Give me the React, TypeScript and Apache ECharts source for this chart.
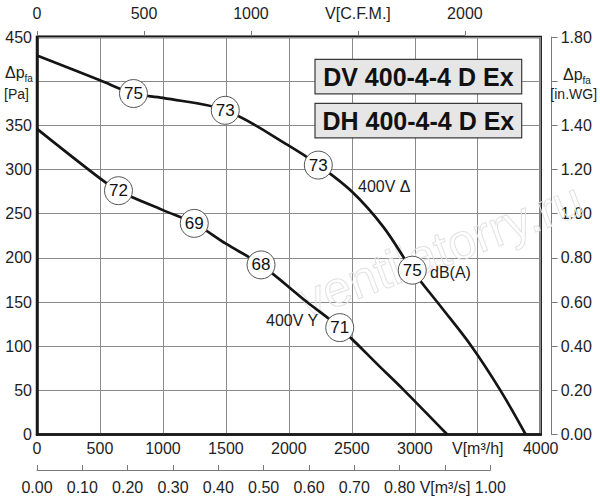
import React, { useEffect, useRef } from "react";
import * as echarts from "echarts";

// ---------- data ----------
// 400V Δ curve: volume flow [m³/h] and static pressure [Pa]
const flowDelta = [0, 500, 766, 1000, 1495, 2000, 2234, 2500, 2750, 2980, 3200, 3450, 3680, 3881];
const pressDelta = [429, 401, 386, 381, 367, 327, 305, 275, 235, 186, 146, 100, 50, 0];
// 400V Y curve
const flowStar = [0, 500, 647, 1000, 1249, 1500, 1779, 2144, 2404, 2728, 2915, 3258];
const pressStar = [346, 290, 276, 254, 239, 216, 192, 150, 121, 76, 50, 0];
// sound level markers (dB(A)) on the curves
const dbDeltaFlow = [766, 1495, 2234, 2980];
const dbDeltaPress = [386, 367, 305, 186];
const dbDeltaValue = [75, 73, 73, 75];
const dbStarFlow = [647, 1249, 1779, 2404];
const dbStarPress = [276, 239, 192, 121];
const dbStarValue = [72, 69, 68, 71];

// axis ranges / tick steps
const FLOW_MAX = 4000;
const FLOW_STEP = 500;
const PRESS_MAX = 450;
const PRESS_STEP = 50;
const CFM_MAX = 2000;
const CFM_STEP = 500;
const M3S_MAX = 1.0;
const M3S_STEP = 0.1;
const INWG_MAX = 1.8;
const INWG_STEP = 0.2;
const CFM_TO_M3H = 1.699011;
const M3S_TO_M3H = 3600;

// names that replace a tick label
const NAME_FLOW = "V[m³/h]";
const NAME_FLOW_AT = 3500;
const NAME_CFM = "V[C.F.M.]";
const NAME_CFM_AT = 1500;
const NAME_M3S = "V[m³/s]";
const NAME_M3S_AT = 0.9;
const MODELS = ["DV 400-4-4 D Ex", "DH 400-4-4 D Ex"];

const FONT = "'Liberation Sans', Arial, Helvetica, sans-serif";
const TXT = "#1e1e1e";
const GRIDC = "#8a8a8a";
const AXC = "#7a7a7a";

// layout
const PL = 37;
const PT = 37;
const PW = 503.7;
const PH = 397.5;

const near = (a: number, b: number) => Math.abs(a - b) < 1e-6;

export default function App() {
  const ref = useRef<HTMLDivElement>(null);

  useEffect(() => {
    if (!ref.current) return;
    const chart = echarts.init(ref.current, undefined, { renderer: "svg" });

    const lineDelta = flowDelta.map((x, i) => [x, pressDelta[i]]);
    const lineStar = flowStar.map((x, i) => [x, pressStar[i]]);
    const marks = [
      ...dbDeltaFlow.map((x, i) => [x, dbDeltaPress[i], dbDeltaValue[i]]),
      ...dbStarFlow.map((x, i) => [x, dbStarPress[i], dbStarValue[i]]),
    ];

    const label = (extra: any) => ({
      color: TXT,
      fontSize: 16,
      fontFamily: FONT,
      ...extra,
    });

    const txt = (text: string, x: number, y: number, size: number, extra: any = {}) => ({
      type: "text",
      x,
      y,
      z: 20,
      style: {
        text,
        fill: TXT,
        fontSize: size,
        fontFamily: FONT,
        align: "left",
        verticalAlign: "middle",
        ...extra,
      },
    });

    const boxX = 315;
    const boxW = 206.7;
    const boxes: any[] = [];
    MODELS.forEach((m, i) => {
      const y = i === 0 ? 59.3 : 103.3;
      boxes.push({
        type: "rect",
        z: 15,
        shape: { x: boxX, y, width: boxW, height: 34.5 },
        style: { fill: "#e6e6e6", stroke: "#3a3a3a", lineWidth: 1.2 },
      });
      boxes.push(
        txt(m, boxX + boxW / 2, y + 17.5, 25, {
          align: "center",
          fontWeight: "bold",
          fill: "#111",
        })
      );
    });

    const curveStyle = { color: "#141414", width: 2.7 };

    chart.setOption({
      animation: false,
      backgroundColor: "#fff",
      textStyle: { fontFamily: FONT },
      grid: [
        {
          left: PL,
          top: PT,
          width: PW,
          height: PH,
          show: true,
          borderColor: "#1a1a1a",
          borderWidth: 2.5,
          backgroundColor: "transparent",
          containLabel: false,
          outerBoundsMode: "none",
        },
        {
          left: PL,
          top: 25,
          width: (PW * CFM_MAX * CFM_TO_M3H) / FLOW_MAX,
          height: 10,
          containLabel: false,
          outerBoundsMode: "none",
        },
        {
          left: PL,
          top: 460,
          width: (PW * M3S_MAX * M3S_TO_M3H) / FLOW_MAX,
          height: 10,
          containLabel: false,
          outerBoundsMode: "none",
        },
      ],
      xAxis: [
        {
          gridIndex: 0,
          type: "value",
          position: "bottom",
          min: 0,
          max: FLOW_MAX,
          interval: FLOW_STEP,
          axisLine: { show: true, lineStyle: { color: "#1a1a1a", width: 2.5 } },
          axisTick: { show: false },
          splitLine: { show: true, lineStyle: { color: GRIDC, width: 1 } },
          axisLabel: label({
            margin: 6,
            formatter: (v: number) => (near(v, NAME_FLOW_AT) ? NAME_FLOW : String(v)),
          }),
        },
        {
          gridIndex: 1,
          type: "value",
          position: "top",
          min: 0,
          max: CFM_MAX,
          interval: CFM_STEP,
          axisLine: { show: true, lineStyle: { color: AXC, width: 1 } },
          axisTick: { show: true, length: 4, lineStyle: { color: AXC, width: 1 } },
          splitLine: { show: false },
          axisLabel: label({
            margin: 4,
            formatter: (v: number) => (near(v, NAME_CFM_AT) ? NAME_CFM : String(v)),
          }),
        },
        {
          gridIndex: 2,
          type: "value",
          position: "bottom",
          min: 0,
          max: M3S_MAX,
          interval: M3S_STEP,
          axisLine: { show: true, lineStyle: { color: AXC, width: 1 } },
          axisTick: { show: true, inside: true, length: 5, lineStyle: { color: AXC, width: 1 } },
          splitLine: { show: false },
          axisLabel: label({
            margin: 9,
            formatter: (v: number) => (near(v, NAME_M3S_AT) ? NAME_M3S : v.toFixed(2)),
          }),
        },
      ],
      yAxis: [
        {
          gridIndex: 0,
          type: "value",
          position: "left",
          min: 0,
          max: PRESS_MAX,
          interval: PRESS_STEP,
          axisLine: { show: true, lineStyle: { color: "#1a1a1a", width: 2.5 } },
          axisTick: { show: false },
          splitLine: { show: true, lineStyle: { color: GRIDC, width: 1 } },
          axisLabel: label({
            margin: 5,
            formatter: (v: number) => (near(v, 400) ? "" : String(v)),
          }),
        },
        {
          gridIndex: 0,
          type: "value",
          position: "right",
          offset: 11,
          min: 0,
          max: INWG_MAX,
          interval: INWG_STEP,
          axisLine: { show: true, lineStyle: { color: AXC, width: 1 } },
          axisTick: { show: true, length: 6, lineStyle: { color: AXC, width: 1 } },
          splitLine: { show: false },
          axisLabel: label({
            margin: 9,
            formatter: (v: number) => (near(v, 1.6) ? "" : v.toFixed(2)),
          }),
        },
        { gridIndex: 1, type: "value", show: false, min: 0, max: 1 },
        { gridIndex: 2, type: "value", show: false, min: 0, max: 1 },
      ],
      graphic: [
        {
          type: "text",
          x: 440,
          y: 250,
          rotation: 0.36,
          z: 1,
          silent: true,
          style: {
            text: "ventilatorry.ru",
            fontSize: 50,
            fontFamily: FONT,
            fill: "rgba(255,255,255,0)",
            stroke: "#e2e2e2",
            lineWidth: 1,
            align: "center",
            verticalAlign: "middle",
          },
        },
        ...boxes,
        // left axis name
        txt("Δp", 5, 72, 16),
        txt("fa", 24.5, 78, 10),
        txt("[Pa]", 4, 94, 14),
        // right axis name
        txt("Δp", 563, 74.5, 16),
        txt("fa", 582.5, 80, 10),
        txt("[in.WG]", 573.7, 94, 14, { align: "center" }),
        // curve annotations
        txt("400V Δ", 358, 186, 16),
        txt("dB(A)", 430, 272, 16),
        txt("400V Y", 266, 320, 16),
      ],
      series: [
        {
          type: "line",
          xAxisIndex: 0,
          yAxisIndex: 0,
          data: lineDelta,
          smooth: 0.35,
          showSymbol: false,
          silent: true,
          z: 3,
          lineStyle: curveStyle,
        },
        {
          type: "line",
          xAxisIndex: 0,
          yAxisIndex: 0,
          data: lineStar,
          smooth: 0.35,
          showSymbol: false,
          silent: true,
          z: 3,
          lineStyle: curveStyle,
        },
        {
          type: "scatter",
          xAxisIndex: 0,
          yAxisIndex: 0,
          data: marks,
          symbol: "circle",
          symbolSize: 28,
          silent: true,
          z: 5,
          itemStyle: { color: "#fff", borderColor: "#555", borderWidth: 1, opacity: 1 },
          label: {
            show: true,
            position: "inside",
            formatter: (p: any) => String(p.value[2]),
            fontSize: 17,
            fontFamily: FONT,
            color: "#111",
          },
        },
      ],
    });

    return () => chart.dispose();
  }, []);

  return (
    <div
      ref={ref}
      style={{ position: "fixed", left: 0, top: 0, width: 600, height: 500, background: "#fff" }}
    />
  );
}
